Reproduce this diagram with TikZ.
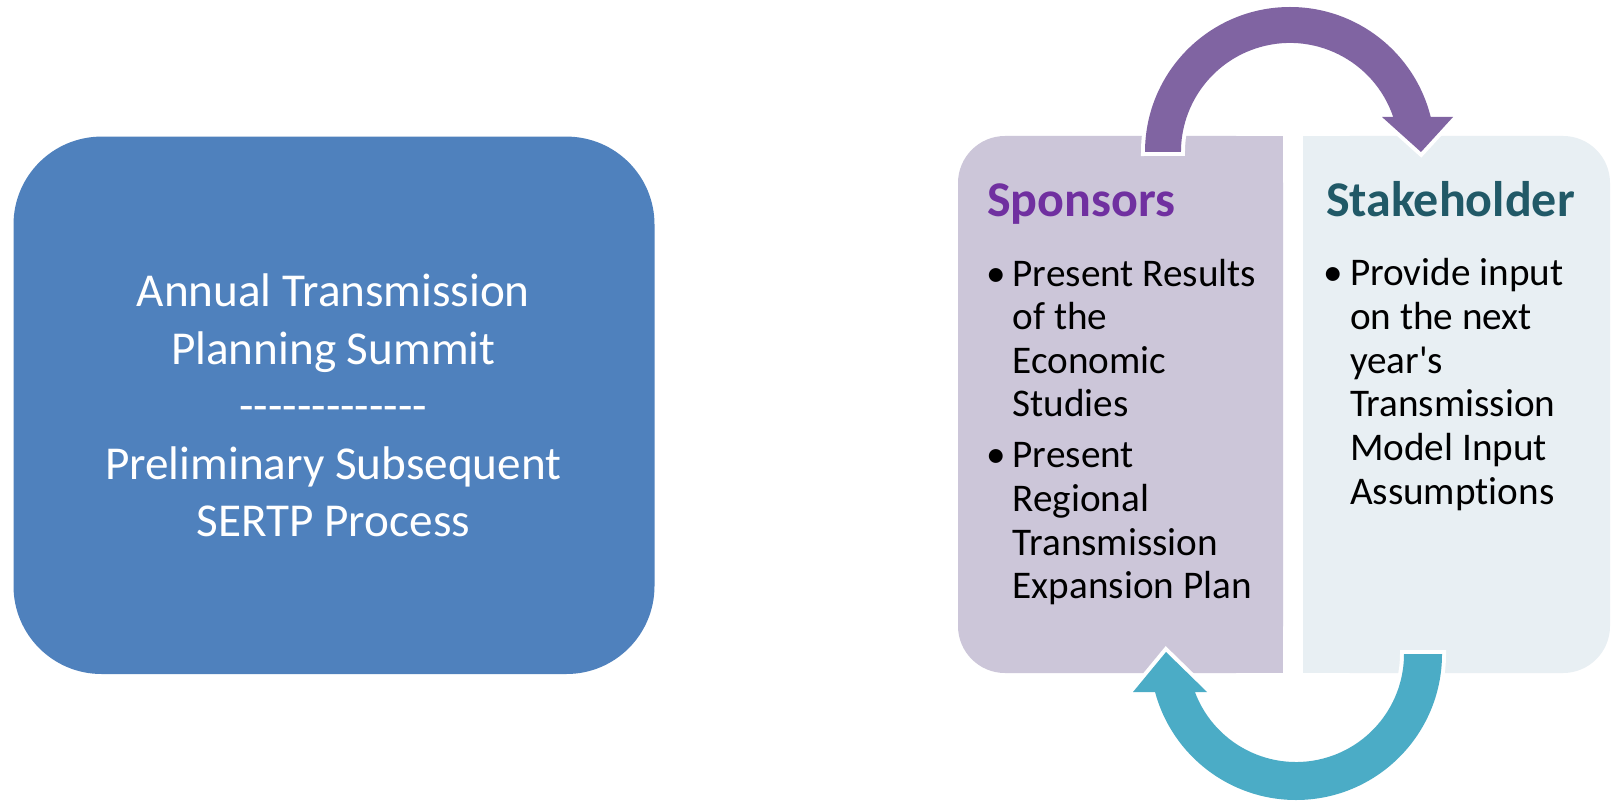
\documentclass[tikz,border=0pt]{standalone}
\usepackage{fontspec}
\setmainfont{Carlito}[Ligatures={NoCommon}]
\definecolor{leftblue}{HTML}{4F81BD}
\definecolor{sponsfill}{HTML}{CCC6D9}
\definecolor{stakefill}{HTML}{E8EFF3}
\definecolor{sponstitle}{HTML}{7030A0}
\definecolor{staketitle}{HTML}{215967}
\definecolor{purplearrow}{HTML}{8064A2}
\definecolor{tealarrow}{HTML}{4BACC6}
\newcommand{\hy}{-\kern0pt}
\begin{document}
\begin{tikzpicture}[x=0.5pt,y=-0.5pt,
  txt/.style={inner sep=0pt, outer sep=0pt},
  lefttxt/.style={txt, anchor=base, text=white, font=\fontsize{23.6}{28}\selectfont},
  titletxt/.style={txt, anchor=base west, font=\fontsize{25}{30}\selectfont\bfseries},
  bodytxt/.style={txt, anchor=base west, font=\fontsize{19.6}{22}\selectfont},
  bullettxt/.style={txt, anchor=base, font=\fontsize{19.6}{22}\selectfont},
  bigarrow/.style={preaction={draw=white, line width=4pt, line join=miter}}
]
\useasboundingbox (0,0) rectangle (1611,802);
\fill[white] (0,0) rectangle (1611,802);

% left box
\node[fill=leftblue, rounded corners=44pt, minimum width=320.5pt, minimum height=268.7pt, inner sep=0pt] (summit) at (334,405.3) {};
\node[lefttxt] (l1) at (333.3,306.7) {Annual Transmission};
\node[lefttxt] (l2) at (333.3,364.2) {Planning Summit};
\node[lefttxt] (l3) at (333.3,421.7) {\hy\hy\hy\hy\hy\hy\hy\hy\hy\hy\hy\hy-};
\node[lefttxt] (l4) at (333.3,479.2) {Preliminary Subsequent};
\node[lefttxt] (l5) at (333.3,536.7) {SERTP Process};

% sponsors box
\fill[sponsfill, rounded corners=23.5pt] (958,136) rectangle (1283,673);
\fill[sponsfill] (1120,136) rectangle (1283,673);
% stakeholder box
\fill[stakefill, rounded corners=23.5pt] (1303,136) rectangle (1610,673);
\fill[stakefill] (1303,136) rectangle (1450,673);

% sponsors text
\node[titletxt, text=sponstitle] (spt) at (987,216.7) {Sponsors};
\node[bullettxt] (sb1) at (996.7,286) {•};
\node[bodytxt] (s1) at (1012.7,286) {Present Results};
\node[bodytxt] (s2) at (1012.7,329.6) {of the};
\node[bodytxt] (s3) at (1012.7,373.2) {Economic};
\node[bodytxt] (s4) at (1012.7,416.8) {Studies};
\node[bullettxt] (sb2) at (996.7,467.8) {•};
\node[bodytxt] (s5) at (1012.7,467.8) {Present};
\node[bodytxt] (s6) at (1012.7,511.4) {Regional};
\node[bodytxt] (s7) at (1012.7,555) {Transmission};
\node[bodytxt] (s8) at (1012.7,598.6) {Expansion Plan};

% stakeholder text
\node[titletxt, text=staketitle] (stt) at (1326,216.7) {Stakeholder};
\node[bullettxt] (tb1) at (1333.5,285.5) {•};
\node[bodytxt] (t1) at (1350,285.5) {Provide input};
\node[bodytxt] (t2) at (1350,329.3) {on the next};
\node[bodytxt] (t3) at (1350,373.1) {year\textquotesingle s};
\node[bodytxt] (t4) at (1350,416.9) {Transmission};
\node[bodytxt] (t5) at (1350,460.7) {Model Input};
\node[bodytxt] (t6) at (1350,504.5) {Assumptions};

% top purple arrow (Sponsors -> Stakeholder)
\fill[purplearrow, bigarrow] (1145,152) arc[start angle=-180, end angle=-14, radius=145]
  -- (1453,117) -- (1421,152) -- (1382,117) -- (1393.2,117)
  arc[start angle=-18.7, end angle=-180, radius=109] -- cycle;

% bottom teal arrow (Stakeholder -> Sponsors)
\fill[tealarrow, bigarrow] (1442,654) arc[start angle=0, end angle=164.9, radius=146]
  -- (1133,692) -- (1166,652) -- (1207,692) -- (1194.9,692)
  arc[start angle=159.4, end angle=0, radius=108] -- cycle;
\end{tikzpicture}
\end{document}
